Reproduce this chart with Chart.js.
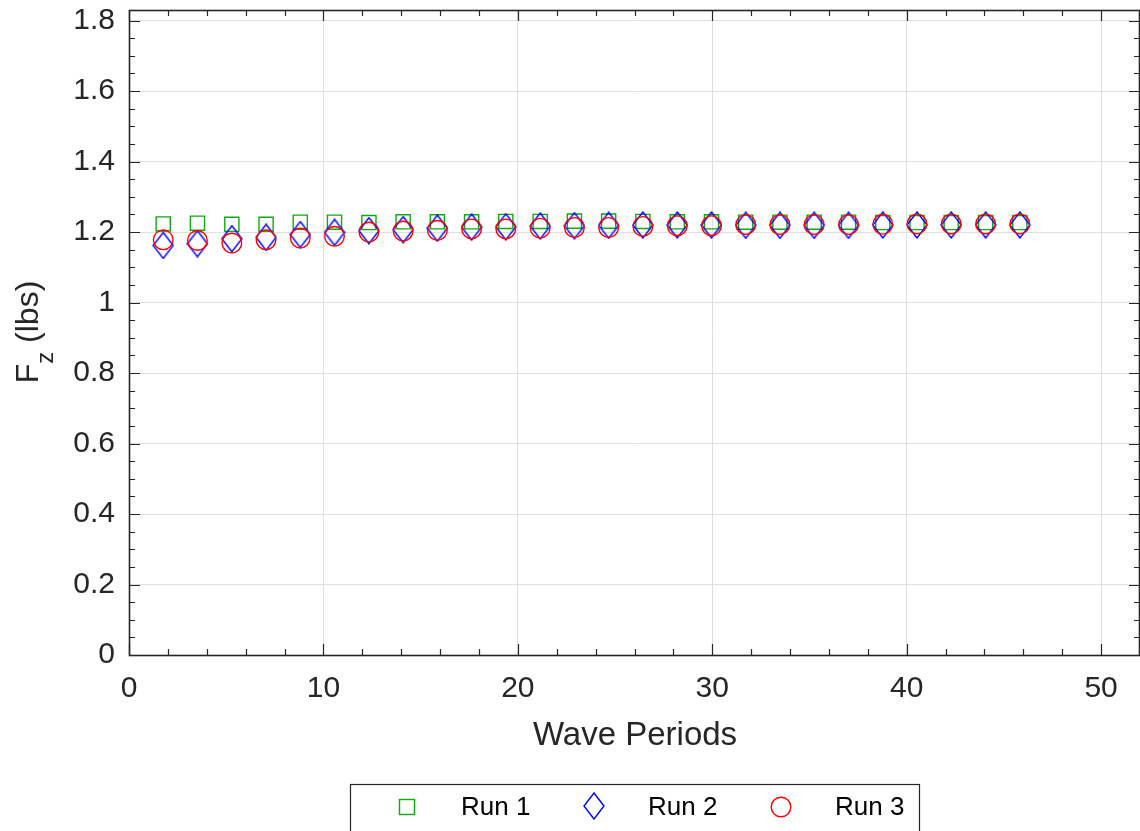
<!DOCTYPE html>
<html>
<head>
<meta charset="utf-8">
<title>Fz per wave period</title>
<script src="https://cdn.jsdelivr.net/npm/chart.js@4.4.1/dist/chart.umd.min.js"></script>
<style>
    html, body { margin: 0; padding: 0; background: #ffffff; }
    #wrap { width: 1140px; height: 831px; position: relative; }
</style>
</head>
<body>
<div id="wrap"><canvas id="fzChart" width="1140" height="831"></canvas></div>
<script>
// --- Data ---
const wavePeriods = [
    1.76, 3.52, 5.29, 7.05, 8.81, 10.57, 12.34, 14.10, 15.86, 17.62,
    19.38, 21.15, 22.91, 24.67, 26.43, 28.20, 29.96, 31.72, 33.48, 35.24,
    37.01, 38.77, 40.53, 42.29, 44.06, 45.82
];
const run1 = [
    1.223, 1.225, 1.222, 1.222, 1.228, 1.228, 1.227, 1.229, 1.229, 1.229,
    1.230, 1.230, 1.231, 1.231, 1.230, 1.229, 1.229, 1.228, 1.228, 1.228,
    1.228, 1.227, 1.227, 1.227, 1.227, 1.227
];
const run2 = [
    1.162, 1.167, 1.181, 1.185, 1.193, 1.199, 1.204, 1.207, 1.211, 1.214,
    1.215, 1.217, 1.218, 1.219, 1.220, 1.220, 1.220, 1.219, 1.219, 1.219,
    1.219, 1.220, 1.220, 1.220, 1.220, 1.220
];
const run3 = [
    1.178, 1.176, 1.169, 1.178, 1.183, 1.188, 1.200, 1.203, 1.205, 1.209,
    1.209, 1.211, 1.213, 1.213, 1.216, 1.218, 1.218, 1.221, 1.221, 1.221,
    1.221, 1.222, 1.223, 1.223, 1.223, 1.223
];
const runLabels = ['Run 1', 'Run 2', 'Run 3'];

const X_MAX = 52, Y_MAX = 1.83;
const X_STEP = 10, X_MINOR = 2;
const Y_STEP = 0.2, Y_MINOR = 0.05;

// --- Styles ---
const AXIS_COLOR = '#262626';
const GRID_COLOR = '#dfdfdf';
const FONT = '"Liberation Sans", Arial, Helvetica, sans-serif';
const GREEN = '#12a812';
const BLUE = '#0000ff';
const RED = '#ff0000';

// MATLAB-like diamond: a bit taller than wide
function makeDiamond(w, h, color) {
    const c = document.createElement('canvas');
    c.width = w + 2;
    c.height = h + 2;
    const g = c.getContext('2d');
    g.strokeStyle = color;
    g.lineWidth = 1.4;
    g.beginPath();
    g.moveTo(c.width / 2, 1);
    g.lineTo(c.width - 1, c.height / 2);
    g.lineTo(c.width / 2, c.height - 1);
    g.lineTo(1, c.height / 2);
    g.closePath();
    g.stroke();
    return c;
}
const diamondImg = makeDiamond(20, 26, BLUE);

const toPoints = ys => ys.map((y, i) => ({ x: wavePeriods[i], y }));

// --- Plugins ---
// axes box with inward major/minor ticks on all four sides
const boxTicks = {
    id: 'boxTicks',
    afterDraw(chart) {
        const { ctx, chartArea: a, scales: { x, y } } = chart;
        ctx.save();
        ctx.strokeStyle = AXIS_COLOR;
        ctx.lineWidth = 1.2;
        ctx.beginPath();
        for (let v = 0; v <= X_MAX + 1e-9; v += X_MINOR) {
            const major = Math.abs(v / X_STEP - Math.round(v / X_STEP)) < 1e-6;
            const len = major ? 11 : 6;
            const px = Math.round(x.getPixelForValue(v)) + 0.5;
            ctx.moveTo(px, a.bottom); ctx.lineTo(px, a.bottom - len);
            ctx.moveTo(px, a.top); ctx.lineTo(px, a.top + len);
        }
        for (let v = 0; v <= Y_MAX + 1e-9; v += Y_MINOR) {
            const major = Math.abs(v / Y_STEP - Math.round(v / Y_STEP)) < 1e-6;
            const len = major ? 11 : 6;
            const py = Math.round(y.getPixelForValue(v)) + 0.5;
            ctx.moveTo(a.left, py); ctx.lineTo(a.left + len, py);
            ctx.moveTo(a.right, py); ctx.lineTo(a.right - len, py);
        }
        ctx.stroke();
        ctx.lineWidth = 1.6;
        ctx.strokeRect(a.left + 0.5, a.top + 0.5, a.right - a.left - 1, a.bottom - a.top);
        ctx.restore();
    }
};

// axis titles (the y title needs a subscript)
const axisTitles = {
    id: 'axisTitles',
    afterDraw(chart) {
        const { ctx, chartArea: a } = chart;
        ctx.save();
        ctx.fillStyle = AXIS_COLOR;
        ctx.font = '33px ' + FONT;
        ctx.textAlign = 'center';
        ctx.textBaseline = 'alphabetic';
        ctx.fillText('Wave Periods', 635, 745);

        ctx.translate(38, 332);
        ctx.rotate(-Math.PI / 2);
        ctx.textAlign = 'left';
        const big = '32px ' + FONT, small = '24px ' + FONT;
        ctx.font = big;
        const wF = ctx.measureText('F').width;
        const wRest = ctx.measureText(' (lbs)').width;
        ctx.font = small;
        const wz = ctx.measureText('z').width;
        let cx = -(wF + wz + wRest) / 2;
        ctx.font = big;
        ctx.fillText('F', cx, 0);
        cx += wF;
        ctx.font = small;
        ctx.fillText('z', cx, 15);
        cx += wz;
        ctx.font = big;
        ctx.fillText(' (lbs)', cx, 0);
        ctx.restore();
    }
};

// boxed horizontal legend under the axes
const boxLegend = {
    id: 'boxLegend',
    afterDraw(chart) {
        const { ctx } = chart;
        const left = 350, top = 784, w = 569, h = 60;
        const rowY = 807;
        ctx.save();
        ctx.strokeStyle = AXIS_COLOR;
        ctx.lineWidth = 1.2;
        ctx.strokeRect(left + 0.5, top + 0.5, w, h);
        ctx.font = '26px ' + FONT;
        ctx.fillStyle = '#000000';
        ctx.textBaseline = 'middle';
        ctx.textAlign = 'left';
        const markX = [407, 594, 781];
        const textX = [461, 648, 835];
        chart.data.datasets.forEach((ds, i) => {
            ctx.strokeStyle = ds.pointBorderColor;
            ctx.lineWidth = ds.pointBorderWidth;
            const style = ds.pointStyle;
            if (style instanceof HTMLCanvasElement) {
                ctx.drawImage(style, markX[i] - style.width / 2, rowY - style.height / 2 - 1);
            } else if (style === 'rect') {
                const s = 7.5;
                ctx.strokeRect(markX[i] - s, rowY - s, 2 * s, 2 * s);
            } else {
                ctx.beginPath();
                ctx.arc(markX[i], rowY, ds.pointRadius, 0, Math.PI * 2);
                ctx.stroke();
            }
            ctx.fillStyle = '#000000';
            ctx.fillText(runLabels[i], textX[i], rowY + 1);
        });
        ctx.restore();
    }
};

// --- Chart ---
const chart = new Chart(document.getElementById('fzChart'), {
    type: 'scatter',
    data: {
        datasets: [
            {
                label: runLabels[0],
                data: toPoints(run1),
                pointStyle: 'rect',
                pointRadius: 10,
                pointBorderColor: GREEN,
                pointBackgroundColor: 'rgba(0,0,0,0)',
                pointBorderWidth: 1.4,
                order: 3
            },
            {
                label: runLabels[1],
                data: toPoints(run2),
                pointStyle: diamondImg,
                pointRadius: 13,
                pointBorderColor: BLUE,
                pointBackgroundColor: 'rgba(0,0,0,0)',
                pointBorderWidth: 1.4,
                order: 2
            },
            {
                label: runLabels[2],
                data: toPoints(run3),
                pointStyle: 'circle',
                pointRadius: 9.8,
                pointBorderColor: RED,
                pointBackgroundColor: 'rgba(0,0,0,0)',
                pointBorderWidth: 1.4,
                order: 1
            }
        ]
    },
    options: {
        responsive: false,
        devicePixelRatio: 1,
        animation: false,
        events: [],
        layout: { autoPadding: false, padding: { top: 10, right: -1, bottom: 0, left: 0 } },
        plugins: {
            legend: { display: false },
            tooltip: { enabled: false }
        },
        scales: {
            x: {
                type: 'linear',
                min: 0,
                max: X_MAX,
                // fixed height, and no extra room for edge labels
                afterFit: s => { s.height = 176; s.paddingLeft = 0; s.paddingRight = 0; },
                border: { display: false },
                grid: { color: GRID_COLOR, lineWidth: 1, drawTicks: false },
                ticks: {
                    stepSize: X_STEP,
                    includeBounds: false,
                    padding: 16,
                    color: AXIS_COLOR,
                    font: { family: FONT, size: 30 },
                    maxRotation: 0
                }
            },
            y: {
                type: 'linear',
                min: 0,
                max: Y_MAX,
                afterFit: s => { s.width = 129; s.paddingTop = 0; s.paddingBottom = 0; },
                border: { display: false },
                grid: { color: GRID_COLOR, lineWidth: 1, drawTicks: false },
                ticks: {
                    stepSize: Y_STEP,
                    includeBounds: false,
                    padding: 14,
                    color: AXIS_COLOR,
                    font: { family: FONT, size: 30 },
                    callback: v => String(Number(v.toFixed(1)))
                }
            }
        }
    },
    plugins: [boxTicks, axisTitles, boxLegend]
});
</script>
</body>
</html>
